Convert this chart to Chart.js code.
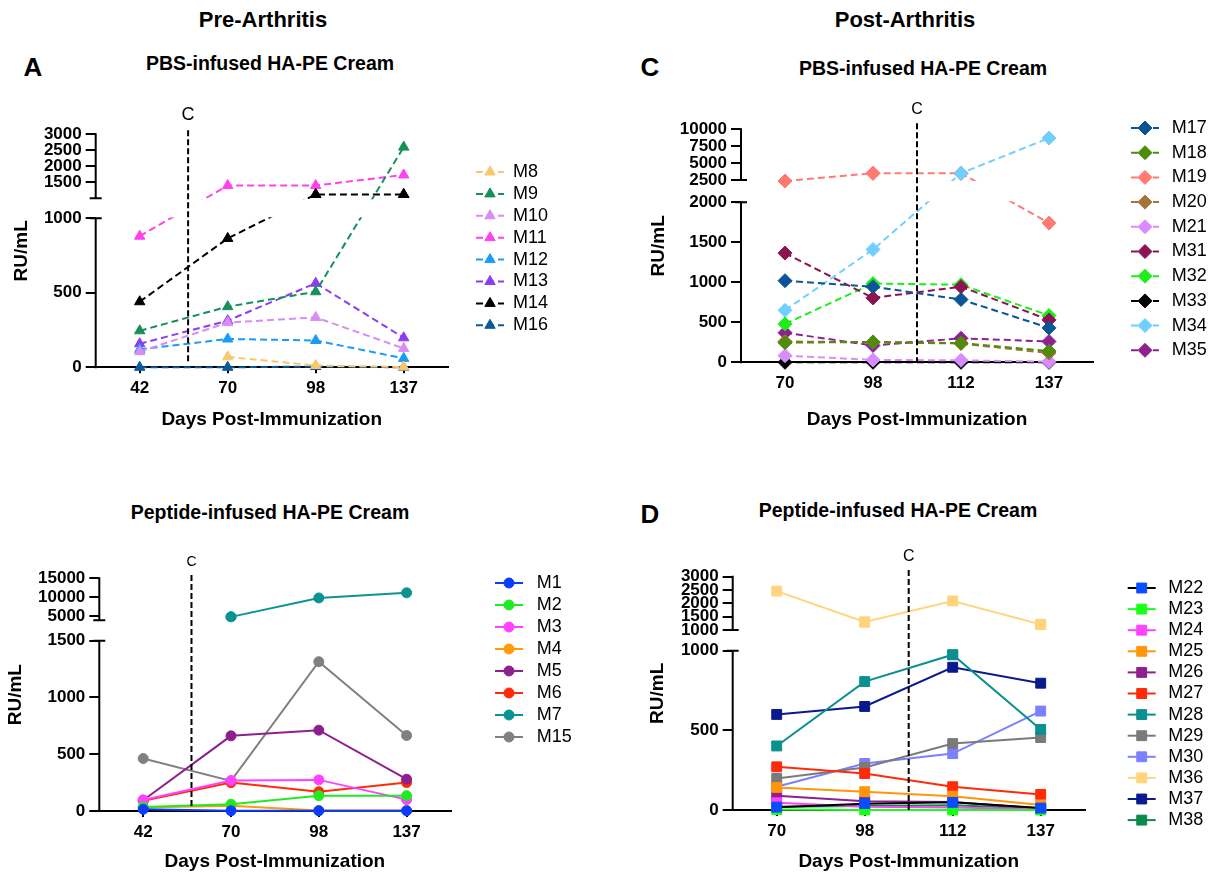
<!DOCTYPE html>
<html>
<head>
<meta charset="utf-8">
<title>Autoantibody titres, pre- and post-arthritis</title>
<script src="https://cdn.jsdelivr.net/npm/chart.js@4.4.1/dist/chart.umd.min.js"></script>
<style>
  body { margin: 0; background: #fff; font-family: 'Liberation Sans', Arial, sans-serif; color: #000; }
  #page { position: relative; width: 1222px; height: 876px; overflow: hidden; }
  .hdr { position: absolute; font-weight: bold; font-size: 22px; transform: translate(-50%, -50%); white-space: nowrap; }
  .sub { position: absolute; font-weight: bold; font-size: 19.5px; transform: translate(-50%, -50%); white-space: nowrap; }
  .let { position: absolute; font-weight: bold; font-size: 26px; transform: translate(-50%, -50%); }
  canvas { position: absolute; }
</style>
</head>
<body>
<div id="page">
  <div class="hdr" style="left:263px;top:20px">Pre-Arthritis</div>
  <div class="hdr" style="left:905px;top:20px">Post-Arthritis</div>

  <div class="let" style="left:33px;top:67px">A</div>
  <div class="let" style="left:650px;top:67px">C</div>
  <div class="let" style="left:650px;top:514px">D</div>

  <div class="sub" style="left:270px;top:63px">PBS-infused HA-PE Cream</div>
  <div class="sub" style="left:923px;top:68px">PBS-infused HA-PE Cream</div>
  <div class="sub" style="left:270px;top:512px">Peptide-infused HA-PE Cream</div>
  <div class="sub" style="left:898px;top:510px">Peptide-infused HA-PE Cream</div>

  <canvas id="pbsPre" width="611" height="350" style="left:0;top:90px"></canvas>
  <canvas id="pbsPost" width="611" height="350" style="left:611px;top:90px"></canvas>
  <canvas id="pepPre" width="611" height="336" style="left:0;top:540px"></canvas>
  <canvas id="pepPost" width="611" height="336" style="left:611px;top:540px"></canvas>
</div>

<script>
// ---- data ----
var daysPre = ['42', '70', '98', '137'];
var daysPost = ['70', '98', '112', '137'];

// A: PBS-infused cream, pre-arthritis (RU/mL)
var pbsPreNames = ['M8', 'M9', 'M10', 'M11', 'M12', 'M13', 'M14', 'M16'];
var pbsPreValues = [
    [null, 70, 12, 2],
    [245, 407, 507, 2600],
    [105, 300, 335, 127],
    [880, 1400, 1400, 1730],
    [120, 190, 180, 60],
    [158, 313, 564, 198],
    [440, 865, 1120, 1120],
    [0, 0, 5, 0]
];
var pbsPreTicks = [0, 500, 1000, 1500, 2000, 2500, 3000];

// C: PBS-infused cream, post-arthritis
var pbsPostNames = ['M17', 'M18', 'M19', 'M20', 'M21', 'M31', 'M32', 'M33', 'M34', 'M35'];
var pbsPostValues = [
    [1020, 945, 785, 430],
    [245, 255, 240, 140],
    [2350, 3500, 3500, 1740],
    [260, 250, 235, 115],
    [83, 30, 25, 8],
    [1365, 805, 945, 530],
    [480, 985, 970, 585],
    [0, 0, 0, 0],
    [650, 1410, 3500, 8700],
    [370, 210, 300, 260]
];
var pbsPostTicks = [0, 500, 1000, 1500, 2000, 2500, 5000, 7500, 10000];

// B: peptide-infused cream, pre-arthritis
var pepPreNames = ['M1', 'M2', 'M3', 'M4', 'M5', 'M6', 'M7', 'M15'];
var pepPreValues = [
    [15, 2, 2, 2],
    [35, 60, 135, 135],
    [97, 268, 274, 100],
    [30, 47, 5, 5],
    [95, 662, 712, 280],
    [90, 250, 170, 250],
    [null, 4900, 9850, 11200],
    [462, 265, 1315, 665]
];
var pepPreTicks = [0, 500, 1000, 1500, 5000, 10000, 15000];

// D: peptide-infused cream, post-arthritis
var pepPostNames = ['M22', 'M23', 'M24', 'M25', 'M26', 'M27', 'M28', 'M29', 'M30', 'M36', 'M37', 'M38'];
var pepPostValues = [
    [18, 40, 48, 12],
    [3, 0, 0, 0],
    [45, 20, 15, 5],
    [142, 115, 87, 31],
    [90, 55, 50, 10],
    [271, 229, 146, 98],
    [402, 806, 975, 506],
    [198, 267, 417, 455],
    [146, 292, 354, 621],
    [2460, 1300, 2090, 1210],
    [600, 650, 896, 796],
    [20, 25, 30, 10]
];
// the second 1000 sits at the foot of the upper segment
var pepPostTicks = [0, 500, 1000, 1000.001, 1500, 2000, 2500, 3000];

// ---- colours ----
var pbsPreColors = ['#f8c86c', '#14905a', '#d88cf4', '#ff42ee', '#1a9cf4', '#8b3cf4', '#000000', '#0c5a9b'];
var pbsPostColors = ['#0b5596', '#4f8c0b', '#ff7b72', '#a6733b', '#d88cff', '#8d1450', '#1bee1b', '#000000', '#70cfff', '#8e2090'];
var pepPreColors = ['#0a3cff', '#22ea22', '#ff42ff', '#ff9a0a', '#8e1f8e', '#ff2a0a', '#0b9393', '#808080'];
var pepPostColors = ['#0a4cff', '#1aff1a', '#ff42ff', '#ff960a', '#8e1f8e', '#ff2a0a', '#0b8f8f', '#7a7a7a', '#7b80ff', '#ffd47c', '#0a1a8c', '#0a8a4a'];
var pepPostLineColors = pepPostColors.slice();
pepPostLineColors[0] = '#000000';

var FONT = "'Liberation Sans', Arial, sans-serif";
Chart.defaults.font.family = FONT;
Chart.defaults.color = '#000';

// linear axis split into a lower and an upper segment with a gap between them
class BrokenLinearScale extends Chart.LinearScale {
    segs() {
        var b = this.options.brk;
        var h = this.bottom - this.top;
        var lowTop = this.bottom - h * b.lowFrac;
        return { lowTop: lowTop, upBottom: lowTop - h * b.gapFrac };
    }
    buildTicks() {
        return this.options.brk.ticks.map(function(v) { return { value: v }; });
    }
    getPixelForValue(value) {
        var b = this.options.brk, s = this.segs();
        if (value <= b.lowMax) {
            return this.bottom - (value - this.min) / (b.lowMax - this.min) * (this.bottom - s.lowTop);
        }
        return this.top + (this.max - value) / (this.max - b.upMin) * (s.upBottom - this.top);
    }
    getValueForPixel(pixel) {
        var b = this.options.brk, s = this.segs();
        if (pixel >= s.lowTop) {
            return this.min + (this.bottom - pixel) / (this.bottom - s.lowTop) * (b.lowMax - this.min);
        }
        return this.max - (pixel - this.top) / (s.upBottom - this.top) * (this.max - b.upMin);
    }
}
BrokenLinearScale.id = 'brokenLinear';
BrokenLinearScale.defaults = {};
Chart.register(BrokenLinearScale);

// blank the break band for the lines, then put back the markers that reach into it
var brokenAxis = {
    id: 'brokenAxis',
    afterDatasetsDraw: function(chart) {
        var ctx = chart.ctx, area = chart.chartArea, y = chart.scales.y, s = y.segs();
        ctx.save();
        ctx.fillStyle = '#fff';
        ctx.fillRect(area.left + 2, s.upBottom + 1, area.right - area.left + 10, s.lowTop - s.upBottom - 2);
        ctx.restore();
        chart.getSortedVisibleDatasetMetas().forEach(function(meta) {
            meta.data.forEach(function(pt) {
                if (!pt.skip && pt.y > s.upBottom - 10 && pt.y < s.lowTop + 10) pt.draw(ctx, area);
            });
        });
    },
    afterDraw: function(chart) {
        var ctx = chart.ctx, y = chart.scales.y, s = y.segs(), x0 = y.right;
        ctx.save();
        ctx.strokeStyle = '#000';
        ctx.lineWidth = 2;
        ctx.beginPath();
        ctx.moveTo(x0, y.bottom + 1); ctx.lineTo(x0, s.lowTop);
        ctx.moveTo(x0 - 6, s.lowTop); ctx.lineTo(x0 + 6, s.lowTop);
        ctx.moveTo(x0 - 6, s.upBottom); ctx.lineTo(x0 + 6, s.upBottom);
        ctx.moveTo(x0, s.upBottom); ctx.lineTo(x0, y.top - 1);
        ctx.stroke();
        ctx.restore();
    }
};

// dashed "C" marker between two sampling days
var cLine = {
    id: 'cLine',
    afterDraw: function(chart, args, o) {
        var ctx = chart.ctx, area = chart.chartArea;
        var x = chart.scales.x.getPixelForValue(o.at);
        ctx.save();
        ctx.strokeStyle = '#000';
        ctx.lineWidth = 2;
        ctx.setLineDash([6, 3]);
        ctx.beginPath();
        ctx.moveTo(x, area.top - o.rise);
        ctx.lineTo(x, area.bottom - o.short);
        ctx.stroke();
        ctx.fillStyle = '#000';
        ctx.font = o.size + 'px ' + FONT;
        ctx.textAlign = 'center';
        ctx.textBaseline = 'middle';
        ctx.fillText('C', x, area.top - o.labelUp);
        ctx.restore();
    }
};

// legend in the GraphPad manner: line with the marker on it
var sideLegend = {
    id: 'sideLegend',
    afterDraw: function(chart, args, o) {
        var ctx = chart.ctx;
        chart.data.datasets.forEach(function(ds, i) {
            var cy = o.y + i * o.step;
            ctx.save();
            ctx.strokeStyle = ds.borderColor;
            ctx.lineWidth = 2;
            ctx.setLineDash(ds.borderDash || []);
            ctx.beginPath();
            ctx.moveTo(o.x - 14, cy);
            ctx.lineTo(o.x + 14, cy);
            ctx.stroke();
            ctx.setLineDash([]);
            ctx.fillStyle = ds.pointBackgroundColor;
            ctx.strokeStyle = ds.pointBorderColor;
            ctx.lineWidth = 1;
            Chart.helpers.drawPoint(ctx, { pointStyle: ds.pointStyle, radius: ds.pointRadius, rotation: 0, borderWidth: 1 }, o.x, cy);
            ctx.fillStyle = '#000';
            ctx.font = '18px ' + FONT;
            ctx.textAlign = 'left';
            ctx.textBaseline = 'middle';
            ctx.fillText(ds.label, o.textX, cy);
            ctx.restore();
        });
    }
};

function makeSets(names, values, colors, look, lineColors) {
    return names.map(function(name, i) {
        return {
            label: name,
            data: values[i],
            borderColor: (lineColors || colors)[i],
            backgroundColor: colors[i],
            pointBackgroundColor: colors[i],
            pointBorderColor: colors[i],
            pointStyle: look.marker,
            pointRadius: look.radius,
            pointBorderWidth: 1,
            borderWidth: 2,
            borderDash: look.dash,
            tension: 0,
            clip: false
        };
    });
}

function panel(id, labels, datasets, opt) {
    return new Chart(document.getElementById(id), {
        type: 'line',
        data: { labels: labels, datasets: datasets },
        options: {
            responsive: false,
            animation: false,
            events: [],
            layout: { padding: opt.pad },
            plugins: {
                legend: { display: false },
                tooltip: { enabled: false },
                sideLegend: opt.legend,
                cLine: opt.cline
            },
            scales: {
                x: {
                    offset: true,
                    border: { display: true, color: '#000', width: 2 },
                    grid: { display: true, offset: false, drawOnChartArea: false, drawTicks: true, tickLength: 6, color: '#000', lineWidth: 2 },
                    ticks: { font: { size: 17, weight: 'bold' }, padding: 5, maxRotation: 0 },
                    title: { display: true, text: 'Days Post-Immunization', font: { size: 19, weight: 'bold' }, padding: { top: 0, bottom: 0 } },
                    afterFit: function(s) { s.height = opt.xHeight; }
                },
                y: {
                    type: 'brokenLinear',
                    min: 0,
                    max: opt.max,
                    brk: opt.brk,
                    border: { display: false },
                    grid: { display: true, drawOnChartArea: false, drawTicks: true, tickLength: 10, color: '#000', lineWidth: 2 },
                    ticks: {
                        autoSkip: false,
                        padding: 4,
                        font: { size: 17, weight: 'bold' },
                        callback: function(v) { return String(Math.round(v)); }
                    },
                    title: { display: true, text: 'RU/mL', font: { size: 19, weight: 'bold' }, padding: { top: opt.yTitlePad, bottom: 0 } },
                    afterFit: function(s) { s.width = opt.yWidth; }
                }
            }
        },
        plugins: [brokenAxis, cLine, sideLegend]
    });
}

var dashedTri = { marker: 'triangle', radius: 6, dash: [7, 4] };
var dashedDiamond = { marker: 'rectRot', radius: 7, dash: [7, 4] };
var solidCircle = { marker: 'circle', radius: 5, dash: [] };
var solidSquare = { marker: 'rect', radius: 7, dash: [] };

panel('pbsPre', daysPre, makeSets(pbsPreNames, pbsPreValues, pbsPreColors, dashedTri), {
    pad: { left: 0, top: 44.3, right: 163.3, bottom: 8.7 },
    yWidth: 95.7, xHeight: 64, yTitlePad: 10, max: 3000,
    brk: { lowMax: 1000, upMin: 1000, lowFrac: 149 / 233, gapFrac: 20 / 233, ticks: pbsPreTicks },
    legend: { x: 490, y: 82, step: 21.9, textX: 513 },
    cline: { at: 0.55, rise: 4, short: 5.6, labelUp: 19, size: 18 }
});

panel('pbsPost', daysPost, makeSets(pbsPostNames, pbsPostValues, pbsPostColors, dashedDiamond), {
    pad: { left: 36, top: 39.3, right: 129, bottom: 8.7 },
    yWidth: 94, xHeight: 69, yTitlePad: 0, max: 10000,
    brk: { lowMax: 2000, upMin: 2500, lowFrac: 160 / 233, gapFrac: 22.3 / 233, ticks: pbsPostTicks },
    legend: { x: 534, y: 38, step: 24.7, textX: 560.7 },
    cline: { at: 1.5, rise: 6, short: 0, labelUp: 20, size: 16 }
});

panel('pepPre', daysPre, makeSets(pepPreNames, pepPreValues, pepPreColors, solidCircle), {
    pad: { left: 0, top: 38.3, right: 160.5, bottom: 2.8 },
    yWidth: 99.3, xHeight: 62.2, yTitlePad: 4, max: 15000,
    brk: { lowMax: 1500, upMin: 4000, lowFrac: 170.3 / 232.7, gapFrac: 20.4 / 232.7, ticks: pepPreTicks },
    legend: { x: 509, y: 43, step: 22, textX: 536.7 },
    cline: { at: 0.55, rise: 3.3, short: 4.3, labelUp: 16.6, size: 14 }
});

panel('pepPost', daysPost, makeSets(pepPostNames, pepPostValues, pepPostColors, solidSquare, pepPostLineColors), {
    pad: { left: 35, top: 36.7, right: 137.3, bottom: 2.8 },
    yWidth: 86.7, xHeight: 63.2, yTitlePad: 0, max: 3000,
    brk: { lowMax: 1000, upMin: 1000, lowFrac: 159.3 / 233.3, gapFrac: 20.7 / 233.3, ticks: pepPostTicks },
    legend: { x: 530.7, y: 48, step: 21.1, textX: 557.3 },
    cline: { at: 1.5, rise: 6.7, short: 0, labelUp: 20, size: 16 }
});
</script>
</body>
</html>
